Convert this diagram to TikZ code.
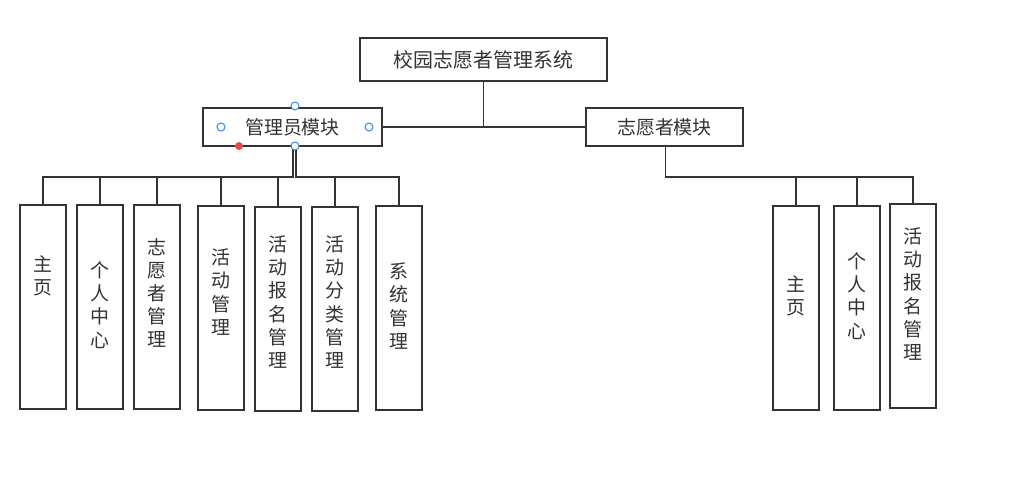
\documentclass[tikz,border=0pt]{standalone}
\usepackage{fontspec}
\newfontfamily\cjk{Noto Sans CJK SC}
\definecolor{ln}{HTML}{333333}
\definecolor{tx}{HTML}{333333}
\definecolor{hb}{HTML}{2F88F0}
\definecolor{hr}{HTML}{E64B4B}
\tikzset{
  box/.style={draw=ln, line width=1.9bp, fill=white, inner sep=0pt, font=\cjk\fontsize{19}{23}\selectfont, text=tx},
  topbox/.style={box, minimum width=247bp, minimum height=43bp, font=\cjk\fontsize{20}{24}\selectfont},
  modbox/.style={box, minimum height=38bp},
  childbox/.style={box, minimum width=46bp, minimum height=204bp},
  vtext/.style={inner sep=0pt, align=center, font=\cjk\fontsize{19}{23.3}\selectfont, text=tx},
  conn/.style={draw=ln, line width=1.9bp},
  hblue/.style={circle, draw=hb, fill=white, line width=1bp, minimum size=8bp, inner sep=0pt},
  hred/.style={circle, fill=hr, minimum size=8bp, inner sep=0pt},
}
\begin{document}
\begin{tikzpicture}[x=1bp,y=-1bp]
\useasboundingbox (0,0) rectangle (1028,487);
% top
\node[topbox] (top) at (483.5,59.5) {校园志愿者管理系统};
\node[modbox, minimum width=179bp] (admin) at (292.5,127) {管理员模块};
\node[modbox, minimum width=157bp] (vol) at (664.5,127) {志愿者模块};
% admin children
\node[childbox] (a1) at (43,307) {};
\node[childbox] (a2) at (100,307) {};
\node[childbox] (a3) at (157,307) {};
\node[childbox] (a4) at (221,308) {};
\node[childbox] (a5) at (278,309) {};
\node[childbox] (a6) at (335,309) {};
\node[childbox] (a7) at (399,308) {};
\node[vtext] (t1) at (43,276) {主\\页};
\node[vtext] (t2) at (100,305) {个\\人\\中\\心};
\node[vtext] (t3) at (157,293) {志\\愿\\者\\管\\理};
\node[vtext] (t4) at (221,292) {活\\动\\管\\理};
\node[vtext] (t5) at (278,302) {活\\动\\报\\名\\管\\理};
\node[vtext] (t6) at (335,302) {活\\动\\分\\类\\管\\理};
\node[vtext] (t7) at (399,306) {系\\统\\管\\理};
% volunteer children
\node[childbox] (v1) at (796,308) {};
\node[childbox] (v2) at (857,308) {};
\node[childbox] (v3) at (913,306) {};
\node[vtext] (s1) at (796,296) {主\\页};
\node[vtext] (s2) at (857,296) {个\\人\\中\\心};
\node[vtext] (s3) at (913,294) {活\\动\\报\\名\\管\\理};
% connectors
\draw[conn] (top.south) |- (admin.east);
\draw[conn] (top.south) |- (vol.west);
\foreach \c in {a1,a2,a3,a4,a5}
  \draw[conn] ([xshift=0.5bp]admin.south) -- ++(0,30) -| (\c.north);
\foreach \c in {a6,a7}
  \draw[conn] ([xshift=3.5bp]admin.south) -- ++(0,30) -| (\c.north);
\foreach \c in {v1,v2,v3}
  \draw[conn] ([xshift=1bp]vol.south) -- ++(0,30) -| (\c.north);
% selection handles
\node[hblue] (h1) at (295,106) {};
\node[hblue] (h2) at (221,127) {};
\node[hblue] (h3) at (369,127) {};
\node[hblue] (h4) at (295,146) {};
\node[hred] (h5) at (239,146) {};
\end{tikzpicture}
\end{document}
